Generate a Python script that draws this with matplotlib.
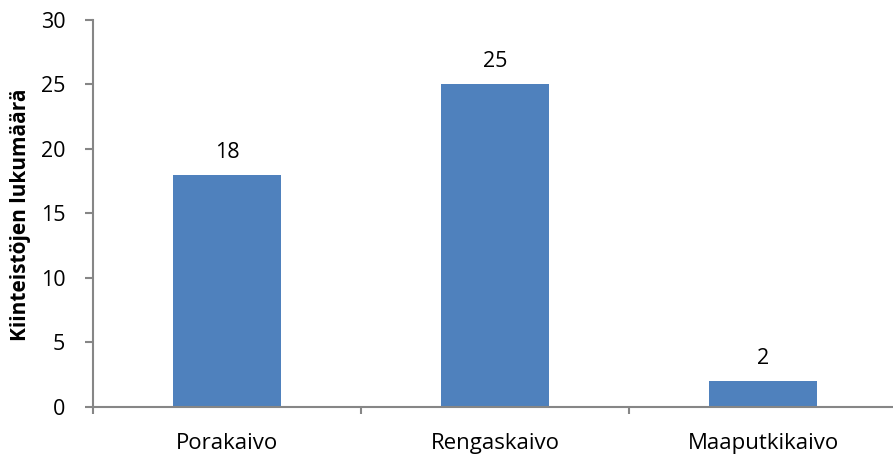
import matplotlib
matplotlib.use("Agg")
import matplotlib.pyplot as plt
from matplotlib.ticker import FixedLocator, NullFormatter

categories = ["Porakaivo", "Rengaskaivo", "Maaputkikaivo"]
values = [18, 25, 2]
y_ticks = [0, 5, 10, 15, 20, 25, 30]
y_label = "Kiinteistöjen lukumäärä"

plt.rcParams['font.family'] = ['Open Sans', 'DejaVu Sans']

W, H = 893, 454
fig = plt.figure(figsize=(W / 100, H / 100), dpi=100)
left, right = 93, 897
bottom, top = 407, 19.5
ax = fig.add_axes([left / W, (H - bottom) / H, (right - left) / W, (bottom - top) / H])

x = list(range(len(categories)))
ax.bar(x, values, width=0.4, color="#4F81BD", zorder=2)
for xi, v in zip(x, values):
    ax.annotate(str(v), (xi, v), xytext=(0, 12.2), textcoords="offset points",
                ha="center", va="baseline", fontsize=15.5, color="#000000")

ax.set_xlim(-0.5, len(categories) - 0.5)
ax.set_ylim(0, 30)
ax.set_yticks(y_ticks)
ax.set_yticklabels([str(t) for t in y_ticks], fontsize=15.5)

ax.set_xticks(x)
ax.set_xticklabels(categories, fontsize=16)
ax.tick_params(axis="x", which="major", length=0, pad=18.5)
ax.xaxis.set_minor_locator(FixedLocator([-0.5, 0.5, 1.5, 2.5]))
ax.xaxis.set_minor_formatter(NullFormatter())
ax.tick_params(axis="x", which="minor", length=5, width=1.5, color="#868686", direction="out")
ax.tick_params(axis="y", length=5.5, width=1.5, color="#868686", direction="out", pad=14.5)

for s in ["top", "right"]:
    ax.spines[s].set_visible(False)
for s in ["left", "bottom"]:
    ax.spines[s].set_color("#868686")
    ax.spines[s].set_linewidth(1.5)

fig.text(21 / W, 1 - 215 / H, y_label, rotation=90, ha="center", va="center",
         fontsize=15, fontweight="bold")

fig.savefig("out.png", dpi=100)
